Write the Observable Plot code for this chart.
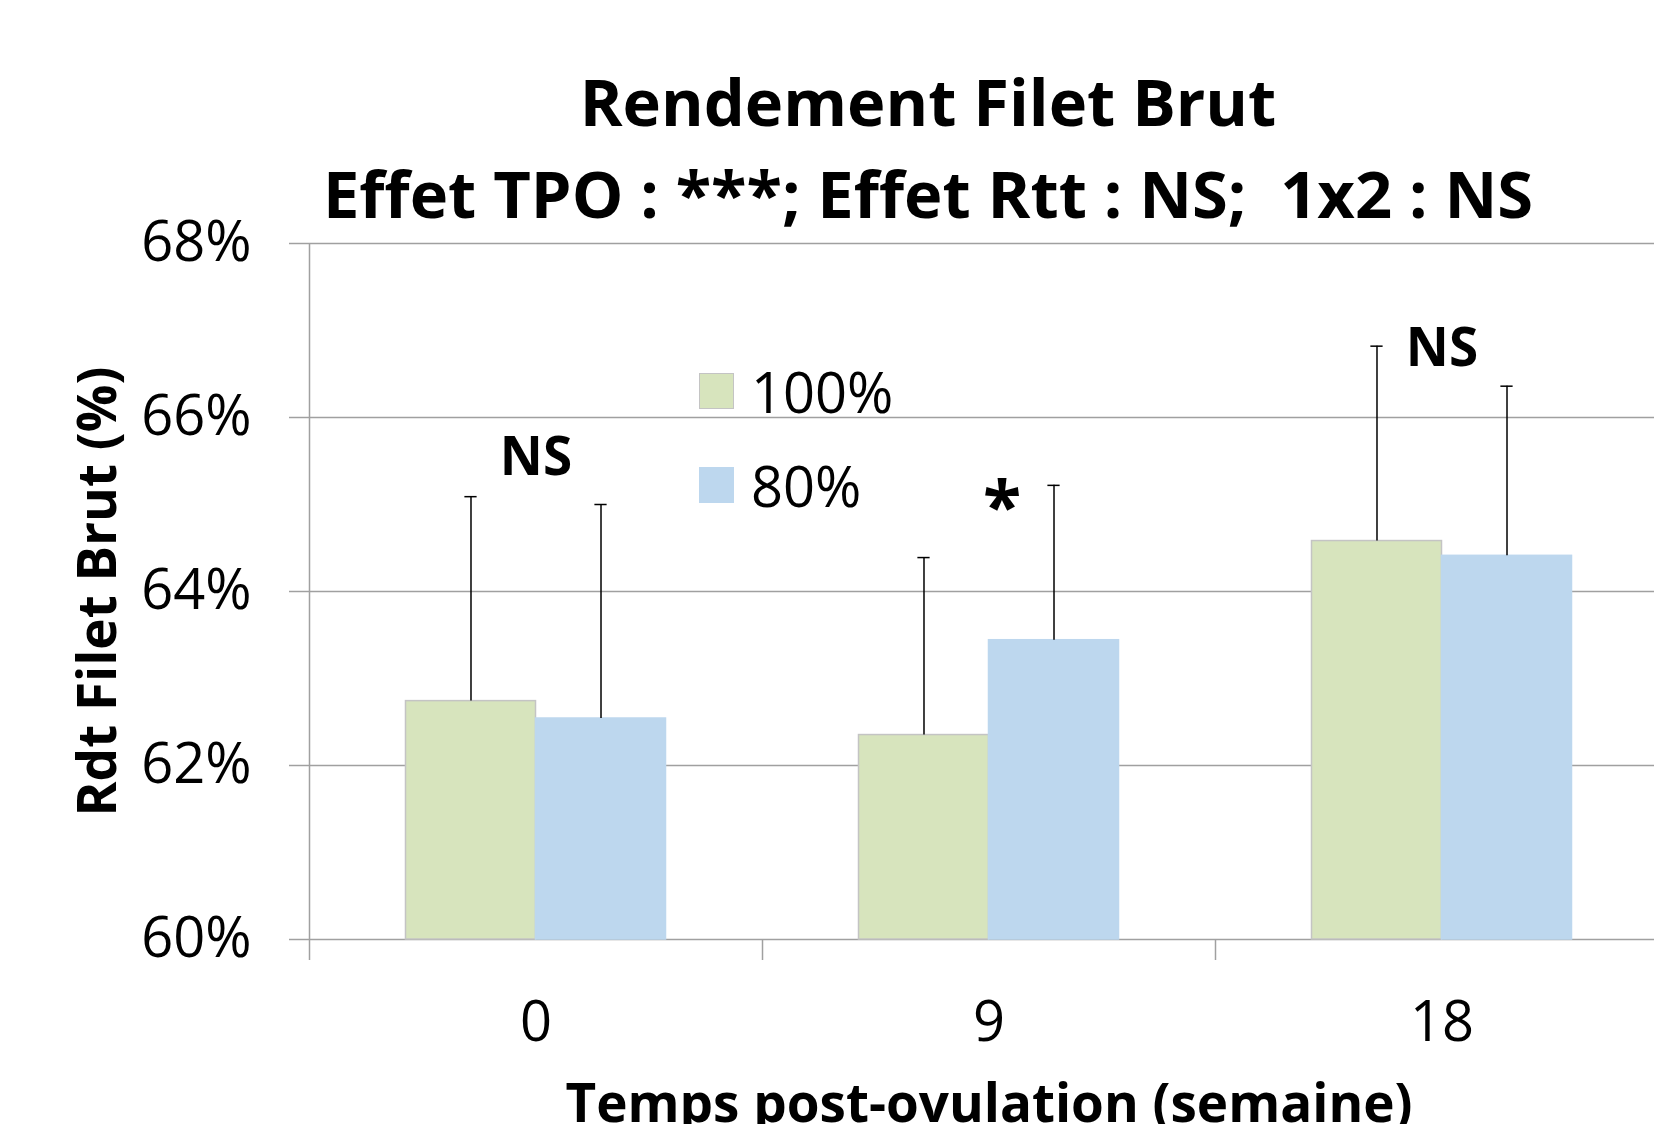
<!DOCTYPE html>
<html>
<head>
<meta charset="utf-8">
<script src="https://cdn.jsdelivr.net/npm/d3@7"></script>
<script src="https://cdn.jsdelivr.net/npm/@observablehq/plot@0.6"></script>
<style>
  body { margin: 0; background: #fff; overflow: hidden; font-family: "Open Sans", sans-serif; }
  #wrap { position: relative; width: 1654px; height: 1124px; overflow: hidden; background: #fff; }
  #title { height: 200px; box-sizing: border-box; padding-top: 55px; padding-left: 202px; text-align: center;
           font-weight: 700; font-size: 65px; line-height: 92px; color: #000; white-space: pre; }
  .item { position: absolute; left: 699px; height: 36px; display: flex; align-items: center; }
  .sw { width: 35px; height: 36px; box-sizing: border-box; margin-right: 17px; }
  .lt { font-size: 56px; line-height: 36px; color: #000; }
  #chart svg { display: block; overflow: hidden; }
</style>
</head>
<body>
<div id="wrap">
  <div id="title"></div>
  <div id="chart"></div>
  <div id="legend"></div>
</div>
<script>
// ---- data ----
const titleLines = ["Rendement Filet Brut", "Effet TPO : ***; Effet Rtt : NS;  1x2 : NS"];
const categories = ["0", "9", "18"];
const series = ["100%", "80%"];
const values100 = [62.74, 62.35, 64.58];
const values80 = [62.54, 63.44, 64.41];
const err100 = [2.35, 2.04, 2.24];
const err80 = [2.46, 1.78, 1.95];
const annotations = ["NS", "*", "NS"];
const annotationLevel = [65.53, 64.95, 66.79];
const yTicks = [60, 62, 64, 66, 68];
const yLabel = "Rdt Filet Brut (%)";
const xLabel = "Temps post-ovulation (semaine)";

// ---- styles ----
const colors = ["#d7e4bd", "#bdd7ee"];
const outlines = ["#c4c4c4", "#bdd7ee"];
const barSpan = {"100%": [0.213, 0.5], "80%": [0.5, 0.787]};
const gridColor = "#a0a0a0";

document.getElementById("title").innerHTML = titleLines.map(t => `<div>${t}</div>`).join("");

const rows = categories.flatMap((c, i) => [
  {cat: c, i, series: series[0], value: values100[i], err: err100[i]},
  {cat: c, i, series: series[1], value: values80[i], err: err80[i]}
]);
const center = d => d.i + (barSpan[d.series][0] + barSpan[d.series][1]) / 2;
const capHalf = 0.0135;
const notes = categories.map((c, i) => ({i, text: annotations[i], level: annotationLevel[i]}));

const chart = Plot.plot({
  width: 1654,
  height: 924,
  marginTop: 43,
  marginBottom: 185,
  marginLeft: 309,
  marginRight: 0,
  style: {fontFamily: "'Open Sans', sans-serif", color: "#000", background: "#fff"},
  x: {type: "linear", domain: [0, categories.length], range: [309, 309 + 453 * categories.length]},
  y: {domain: [60, 68]},
  marks: [
    Plot.ruleY(yTicks, {stroke: gridColor, strokeWidth: 1.5}),
    Plot.ruleX([0], {stroke: gridColor, strokeWidth: 1.5}),
    Plot.axisY({ticks: yTicks, tickSize: 20, tickPadding: 38, tickFormat: d => d + "%", fontSize: 56,
                stroke: gridColor, strokeWidth: 1.5, fill: "#000", label: null}),
    Plot.axisX({ticks: d3.range(categories.length + 1), tickSize: 21, tickFormat: () => "",
                stroke: gridColor, strokeWidth: 1.5, label: null}),
    Plot.axisX({ticks: categories.map((c, i) => i + 0.5), tickSize: 0, tickPadding: 62,
                tickFormat: d => categories[Math.floor(d)], fontSize: 56, fill: "#000", label: null}),
    ...series.map((s, k) => Plot.rectY(rows.filter(d => d.series === s), {
      x1: d => d.i + barSpan[s][0], x2: d => d.i + barSpan[s][1], y1: 60, y2: "value",
      fill: colors[k], stroke: outlines[k], strokeWidth: 1.5
    })),
    Plot.ruleX(rows, {x: center, y1: "value", y2: d => d.value + d.err, stroke: "#000", strokeWidth: 1.5}),
    Plot.ruleY(rows, {y: d => d.value + d.err, x1: d => center(d) - capHalf, x2: d => center(d) + capHalf,
                      stroke: "#000", strokeWidth: 1.5}),
    Plot.text(notes.filter(d => d.text !== "*"), {x: d => d.i + 0.5, y: "level", text: "text",
                           fontWeight: "bold", fontSize: 53, lineAnchor: "middle", fill: "#000"}),
    Plot.text(notes.filter(d => d.text === "*"), {x: d => d.i + 0.5, y: "level", text: "text", dx: 13,
                           fontWeight: "bold", fontSize: 70, lineAnchor: "middle", fill: "#000"}),
    Plot.text([yLabel], {frameAnchor: "left", rotate: -90, dx: -210, textAnchor: "middle", lineAnchor: "middle",
                         fontWeight: "bold", fontSize: 53, fill: "#000"}),
    Plot.text([xLabel], {x: categories.length / 2, frameAnchor: "bottom", dy: 145, lineAnchor: "top",
                         fontWeight: "bold", fontSize: 53, fill: "#000"})
  ]
});
document.getElementById("chart").appendChild(chart);

const legendTops = [373, 467];
document.getElementById("legend").innerHTML = series.map((s, k) =>
  `<div class="item" style="top:${legendTops[k]}px"><div class="sw" style="background:${colors[k]};border:1.5px solid ${outlines[k]}"></div><div class="lt">${s}</div></div>`
).join("");
</script>
</body>
</html>
